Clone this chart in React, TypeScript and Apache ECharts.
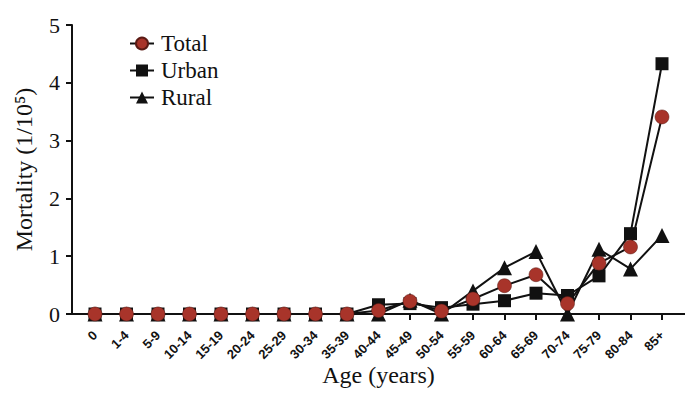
import React, { useEffect, useRef } from "react";
import * as echarts from "echarts";

const categories = ["0", "1-4", "5-9", "10-14", "15-19", "20-24", "25-29", "30-34", "35-39", "40-44", "45-49", "50-54", "55-59", "60-64", "65-69", "70-74", "75-79", "80-84", "85+"];
const totalValues = [0, 0, 0, 0, 0, 0, 0, 0, 0, 0.06, 0.22, 0.05, 0.26, 0.49, 0.68, 0.18, 0.88, 1.16, 3.41];
const urbanValues = [0, 0, 0, 0, 0, 0, 0, 0, 0, 0.16, 0.18, 0.11, 0.17, 0.23, 0.36, 0.32, 0.66, 1.39, 4.33];
const ruralValues = [0, 0, 0, 0, 0, 0, 0, 0, 0, 0, 0.24, 0, 0.4, 0.8, 1.08, 0, 1.12, 0.78, 1.36];
const yTicks = [0, 1, 2, 3, 4, 5];

export default function App() {
  const ref = useRef<HTMLDivElement>(null);
  useEffect(() => {
    if (!ref.current) return;
    document.body.style.margin = "0";
    const chart = echarts.init(ref.current, undefined, { renderer: "svg" });
    const serif = "Liberation Serif";
    chart.setOption({
      animation: false,
      backgroundColor: "#ffffff",
      grid: { left: 95, right: 38, top: 25, bottom: 83 },
      legend: {
        orient: "vertical",
        left: 124,
        top: 27,
        itemGap: 4,
        itemWidth: 24,
        itemHeight: 15,
        textStyle: { fontFamily: serif, fontSize: 23, color: "#111", padding: [0, 0, 0, 2] },
        data: ["Total", "Urban", "Rural"],
      },
      xAxis: {
        type: "category",
        data: categories,
        boundaryGap: false,
        axisLine: { show: false },
        axisTick: { show: true, length: 6, lineStyle: { color: "#111", width: 2 }, alignWithLabel: true },
        axisLabel: {
          interval: 0,
          rotate: 45,
          fontFamily: "Liberation Sans",
          fontWeight: "bold",
          fontSize: 13,
          color: "#111",
          margin: 19,
        },
        splitLine: { show: false },
        name: "Age (years)",
        nameLocation: "middle",
        nameGap: 49,
        nameMoveOverlap: false,
        nameTextStyle: { fontFamily: serif, fontSize: 24, color: "#111" },
      },
      yAxis: {
        type: "value",
        min: yTicks[0],
        max: yTicks[yTicks.length - 1],
        interval: 1,
        offset: 23,
        axisLine: { show: true, lineStyle: { color: "#111", width: 2 } },
        axisTick: { show: true, length: 6, lineStyle: { color: "#111", width: 2 } },
        axisLabel: { fontFamily: serif, fontSize: 22, color: "#111", margin: 12 },
        splitLine: { show: false },
        name: "Mortality (1/10⁵)",
        nameLocation: "middle",
        nameGap: 36,
        nameTextStyle: { fontFamily: serif, fontSize: 24, color: "#111" },
      },
      graphic: [
        {
          type: "line",
          shape: { x1: 72, y1: 314, x2: 685, y2: 314 },
          style: { stroke: "#111", lineWidth: 2 },
          z: 1,
        },
      ],
      series: [
        {
          name: "Urban",
          type: "line",
          data: urbanValues,
          symbol: "rect",
          symbolSize: 13,
          lineStyle: { color: "#111", width: 2 },
          itemStyle: { color: "#111" },
          z: 3,
        },
        {
          name: "Rural",
          type: "line",
          data: ruralValues,
          symbol: "triangle",
          symbolSize: 15,
          lineStyle: { color: "#111", width: 2 },
          itemStyle: { color: "#111" },
          z: 3,
        },
        {
          name: "Total",
          type: "line",
          data: totalValues,
          symbol: "circle",
          symbolSize: 14,
          lineStyle: { color: "#111", width: 2 },
          itemStyle: { color: "#a8342a", borderColor: "#5a1a14", borderWidth: 0.5 },
          z: 4,
        },
      ],
    });
    return () => chart.dispose();
  }, []);
  return <div ref={ref} style={{ width: 700, height: 397 }} />;
}
